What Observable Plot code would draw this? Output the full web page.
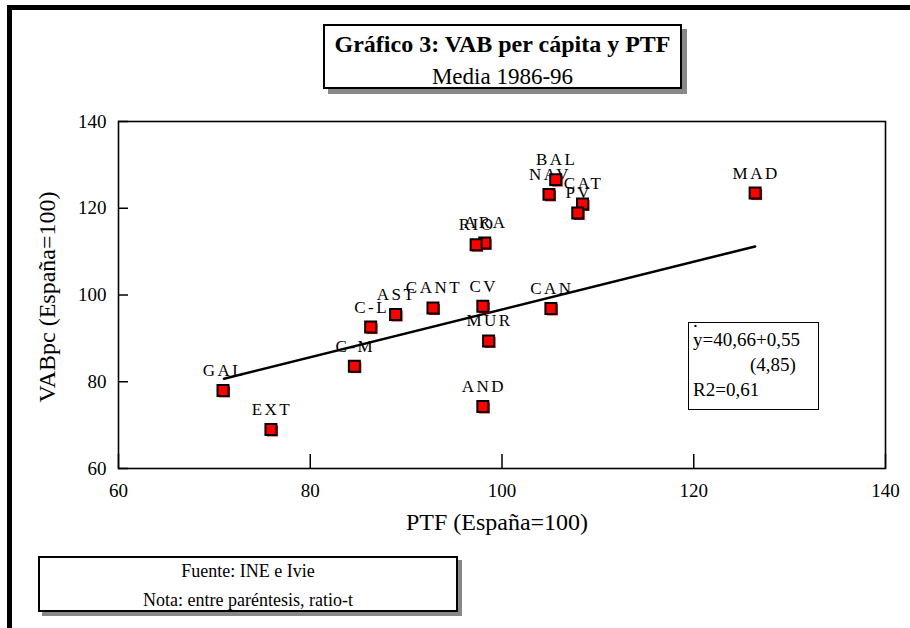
<!DOCTYPE html>
<html>
<head>
<meta charset="utf-8">
<script src="https://cdn.jsdelivr.net/npm/d3@7"></script>
<script src="https://cdn.jsdelivr.net/npm/@observablehq/plot@0.6"></script>
<style>
  body { margin: 0; background: #fff; }
  #wrap { position: relative; width: 910px; height: 628px; overflow: hidden; font-family: "Liberation Serif", "Times New Roman", serif; color: #000; }
  #chart { position: absolute; left: 0; top: 0; }
  #outer { position: absolute; left: 7px; top: 5px; width: 1000px; height: 1000px; border-top: 5px solid #000; border-left: 5px solid #000; }
  .box { position: absolute; background: #fff; box-sizing: border-box; }
  .box div { position: absolute; white-space: nowrap; }
  .ctr { left: 0; right: 0; text-align: center; }
  #title { left: 323px; top: 24px; width: 359px; height: 65px; border: 2px solid #000; box-shadow: 5px 5px 0 #888; }
  #title .t1 { font-weight: bold; font-size: 24px; line-height: 24px; top: 6px; }
  #title .t2 { font-size: 23px; line-height: 23px; top: 39px; }
  #foot { left: 38px; top: 556px; width: 420px; height: 56px; border: 2px solid #000; box-shadow: 4px 4px 0 #888; font-size: 18px; line-height: 18px; }
  #foot .f1 { top: 4px; }
  #foot .f2 { top: 33px; }
  #eq { left: 688px; top: 322px; width: 131px; height: 88px; border: 1.5px solid #000; font-size: 19px; line-height: 19px; }
  .axlab { position: absolute; font-size: 24px; white-space: nowrap; }
</style>
</head>
<body>
<div id="wrap">
  <div id="outer"></div>
  <div id="chart"></div>
  <div class="box" id="title">
    <div class="ctr t1">Gráfico 3: VAB per cápita y PTF</div>
    <div class="ctr t2">Media 1986-96</div>
  </div>
  <div class="box" id="eq">
    <div style="left:4px;top:-12px;">.</div>
    <div style="left:4px;top:7px;">y=40,66+0,55</div>
    <div style="left:61px;top:32px;">(4,85)</div>
    <div style="left:4px;top:57px;">R2=0,61</div>
  </div>
  <div class="box" id="foot">
    <div class="ctr f1">Fuente: INE e Ivie</div>
    <div class="ctr f2">Nota: entre paréntesis, ratio-t</div>
  </div>
  <div class="axlab" id="xlab" style="left:497px;top:522px;transform:translate(-50%,-50%);">PTF (España=100)</div>
  <div class="axlab" id="ylab" style="left:47px;top:297px;transform:translate(-50%,-50%) rotate(-90deg);">VABpc (España=100)</div>
</div>
<script>
// Data
const regions = ["GAL", "EXT", "C-M", "C-L", "AST", "CANT", "CV", "MUR", "AND", "CAN", "ARA", "RIO", "NAV", "BAL", "CAT", "PV", "MAD"];
const ptf =     [70.9,  75.9,  84.6,  86.3,  88.9,  92.8,   98.0, 98.6,  98.0,  105.1, 98.2,  97.3,  104.9, 105.6, 108.4, 107.9, 126.4];
const vabpc =   [78.0,  69.0,  83.6,  92.6,  95.5,  97.0,   97.4, 89.4,  74.3,  96.9,  112.0, 111.6, 123.2, 126.6, 121.0, 118.9, 123.5];

// Regression line end points (as drawn)
const fitX = [71.0, 126.4];
const fitY = [80.7, 111.2];

const xTicks = [60, 80, 100, 120, 140];
const yTicks = [60, 80, 100, 120, 140];

const points = regions.map((r, i) => ({region: r, x: ptf[i], y: vabpc[i]}));
const fit = fitX.map((x, i) => ({x, y: fitY[i]}));

const font = "Liberation Serif, Times New Roman, serif";

const chart = Plot.plot({
  width: 910,
  height: 628,
  marginTop: 121,
  marginRight: 25,
  marginBottom: 160,
  marginLeft: 118,
  style: {fontFamily: font, background: "transparent", color: "#000"},
  x: {domain: [60, 140]},
  y: {domain: [60, 140]},
  marks: [
    Plot.axisX(xTicks, {tickSize: -14, tickPadding: 29, fontSize: 19, label: null, strokeWidth: 1.5}),
    Plot.axisY(yTicks, {tickSize: -10, tickPadding: 22, fontSize: 19, label: null, strokeWidth: 1.5}),
    Plot.frame({stroke: "#000", strokeWidth: 1.6}),
    Plot.text(points, {x: "x", y: "y", text: "region", dy: -20, dx: 1, fontSize: 17, fill: "#000", lineAnchor: "middle"}),
    Plot.line(fit, {x: "x", y: "y", stroke: "#000", strokeWidth: 2.5}),
    Plot.dot(points, {x: "x", y: "y", symbol: "square", r: 6.2, fill: "#ff0000", dx: 1.5, dy: 1.5}),
    Plot.dot(points, {x: "x", y: "y", symbol: "square", r: 6.2, fill: "#ff0000", stroke: "#000", strokeWidth: 2})
  ]
});

d3.select(chart).selectAll('g[aria-label="text"] text').style("letter-spacing", "2.5px");
document.getElementById("chart").appendChild(chart);
</script>
</body>
</html>
